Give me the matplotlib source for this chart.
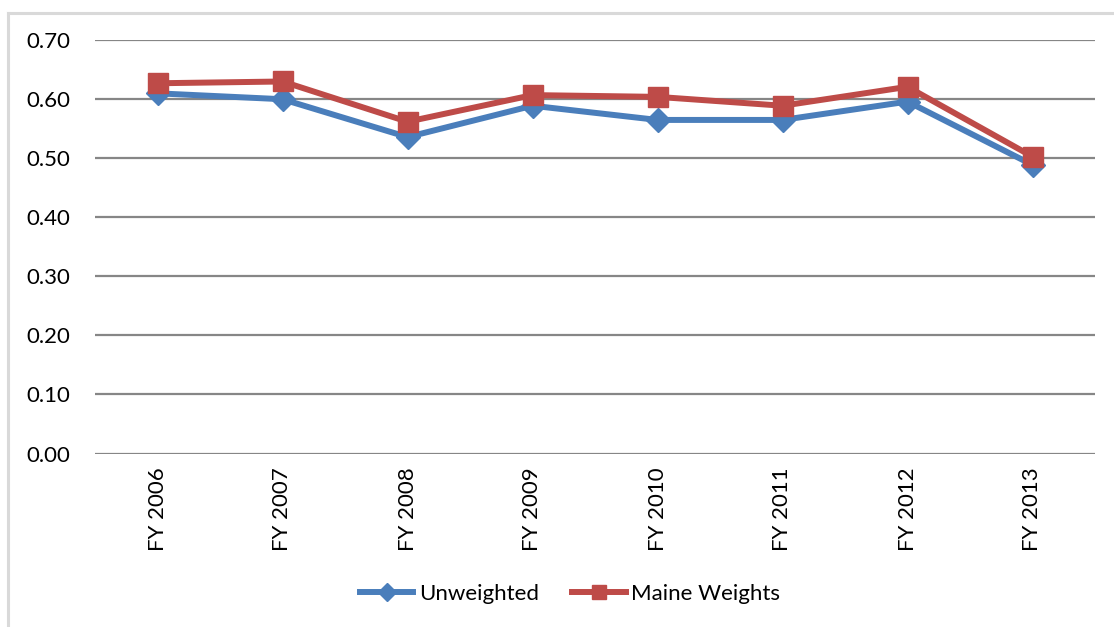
import matplotlib
matplotlib.use("Agg")
import matplotlib.pyplot as plt
from matplotlib.lines import Line2D

categories = ["FY 2006", "FY 2007", "FY 2008", "FY 2009", "FY 2010", "FY 2011", "FY 2012", "FY 2013"]
unweighted = [0.609, 0.599, 0.535, 0.588, 0.564, 0.564, 0.595, 0.488]
maine_weights = [0.626, 0.629, 0.561, 0.606, 0.603, 0.588, 0.620, 0.502]
y_ticks = [0.0, 0.1, 0.2, 0.3, 0.4, 0.5, 0.6, 0.7]

plt.rcParams['font.family'] = ['Lato', 'DejaVu Sans']
FS = 16

W, H = 1114, 627
fig = plt.figure(figsize=(W / 100, H / 100), dpi=100)

# outer chart border (left & top visible)
fig.add_artist(Line2D([8 / W, 8 / W], [0, 1 - 12.5 / H], color="#d9d9d9", lw=2.2, transform=fig.transFigure))
fig.add_artist(Line2D([8 / W, 1], [1 - 12.5 / H, 1 - 12.5 / H], color="#d9d9d9", lw=2.2, transform=fig.transFigure))

left, right, top, bottom = 95, 1095, 39.5, 453.5
ax = fig.add_axes([left / W, 1 - bottom / H, (right - left) / W, (bottom - top) / H])

x = list(range(len(categories)))
blue = "#4a7ebb"
red = "#be4b48"
ax.plot(x, unweighted, color=blue, lw=4.3, marker="D", ms=12, mec=blue, mfc=blue,
        solid_joinstyle="round", label="Unweighted", zorder=3)
ax.plot(x, maine_weights, color=red, lw=4.3, marker="s", ms=14, mec=red, mfc=red,
        solid_joinstyle="round", label="Maine Weights", zorder=4)

ax.set_xlim(-0.5, len(categories) - 0.5)
ax.set_ylim(0, 0.7)
ax.set_yticks(y_ticks)
ax.set_yticklabels([f"{v:.2f}" for v in y_ticks], fontsize=FS)
ax.set_xticks(x)
ax.set_xticklabels(categories, rotation=90, fontsize=FS)
ax.tick_params(axis="both", length=0, colors="black")
ax.tick_params(axis="y", pad=18)
ax.tick_params(axis="x", pad=10)
ax.grid(axis="y", color="#868686", lw=1.6)
ax.set_axisbelow(True)
for s in ["top", "right", "left", "bottom"]:
    ax.spines[s].set_visible(False)

leg = fig.legend(loc="center", bbox_to_anchor=(570 / W, 1 - 594 / H), ncol=2, frameon=False,
                 fontsize=FS, handlelength=2.4, handletextpad=0.25, columnspacing=1.5,
                 markerscale=0.75)

fig.savefig("out.png", dpi=100)
